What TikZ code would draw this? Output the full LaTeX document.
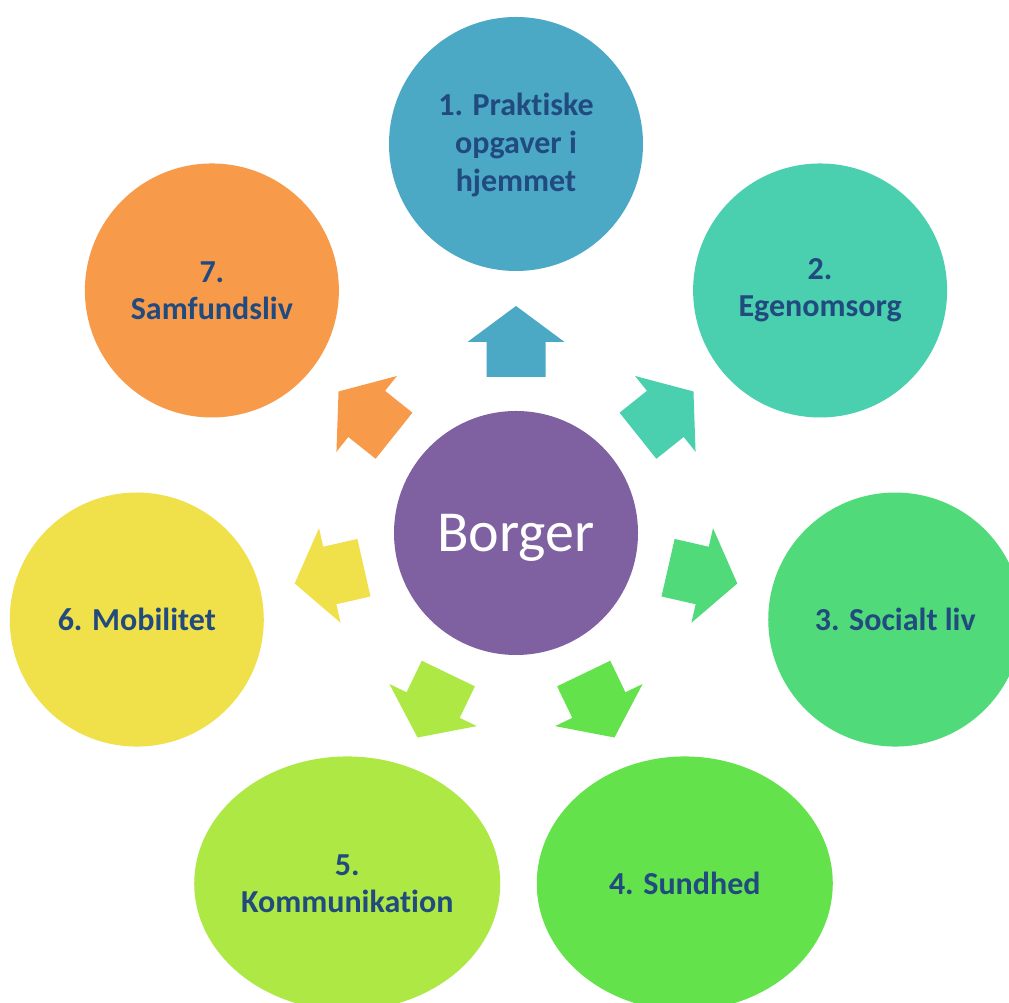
\documentclass[tikz,border=0pt]{standalone}
\usepackage{fontspec}
\setmainfont{Carlito}[Ligatures=NoCommon]
\usetikzlibrary{shapes.geometric,calc}
\definecolor{cA}{HTML}{4BA9C5}
\definecolor{cB}{HTML}{4ACFAF}
\definecolor{cC}{HTML}{51DA7A}
\definecolor{cD}{HTML}{64E24C}
\definecolor{cE}{HTML}{ADE844}
\definecolor{cF}{HTML}{F0E04A}
\definecolor{cG}{HTML}{F79A4A}
\definecolor{cMid}{HTML}{7F61A2}
\definecolor{txt}{HTML}{214A7E}
\tikzset{
  outer/.style={circle, minimum size=254pt, inner sep=0pt, align=center,
    text=txt, font=\fontsize{32}{37}\selectfont\bfseries},
  outerell/.style={ellipse, minimum height=254pt, inner sep=0pt, align=center,
    text=txt, font=\fontsize{32}{37}\selectfont\bfseries},
  blockarrow/.style={draw=none}
}
\begin{document}
\begin{tikzpicture}[x=1pt,y=1pt]
\useasboundingbox (0,0) rectangle (1009,1003);
\clip (0,0) rectangle (1009,1003);
\fill[white] (0,0) rectangle (1009,1003);
\node[circle, fill=cMid, minimum size=244pt, inner sep=0pt, text=white,
  font=\fontsize{58}{62}\selectfont] (borger) at (516,470) {\raisebox{-5pt}[\height][\depth]{Borger}};
\node[outer, fill=cA] (n1) at ($(borger.center)+({90}:389)$) {\raisebox{-2pt}[\height][\depth]{\begin{tabular}{@{}c@{}}1. Praktiske\\[1pt]opgaver i\\[1pt]hjemmet\end{tabular}}};
\node[outer, fill=cB] (n2) at ($(borger.center)+({90-360/7}:389)$) {2.\\Egenomsorg};
\node[outer, fill=cC] (n3) at ($(borger.center)+({90-2*360/7}:389)$) {3. Socialt liv};
\node[outerell, fill=cD, minimum width=296pt] (n4) at ($(borger.center)+({90-3*360/7}:389)$) {4. Sundhed};
\node[outerell, fill=cE, minimum width=306pt] (n5) at ($(borger.center)+({90-4*360/7}:389)$) {5.\\Kommunikation};
\node[outer, fill=cF] (n6) at ($(borger.center)+({90-5*360/7}:389)$) {6. Mobilitet};
\node[outer, fill=cG] (n7) at ($(borger.center)+({90-6*360/7}:389)$) {7.\\Samfundsliv};
\foreach \i/\col in {0/cA,1/cB,2/cC,3/cD,4/cE,5/cF,6/cG} {
  \begin{scope}[shift={(borger.center)}, rotate={90-\i*360/7}]
    \fill[blockarrow, \col] (156,-29.5) -- (191,-29.5) -- (191,-48.5) -- (227,0)
      -- (191,48.5) -- (191,29.5) -- (156,29.5) -- cycle;
  \end{scope}
}
\end{tikzpicture}
\end{document}
